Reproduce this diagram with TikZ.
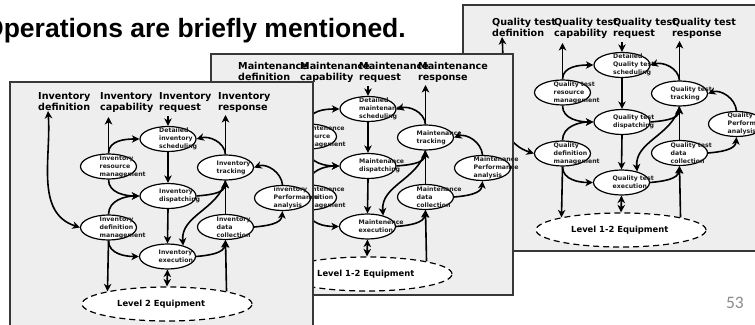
\documentclass[tikz,border=0pt]{standalone}
\usepackage{fontspec}
\setmainfont{DejaVu Sans}
\newfontfamily\titlefont{Liberation Sans}
\newfontfamily\pagefont{Carlito}
\usetikzlibrary{arrows.meta,shapes.geometric}

\definecolor{panelbg}{HTML}{EEEEEE}
\definecolor{panelframe}{HTML}{383838}
\definecolor{inktext}{HTML}{1E1E1E}
\definecolor{pagegray}{HTML}{8C8C8C}

\tikzset{
  panelbox/.style={fill=panelbg, draw=panelframe, line width=1.4pt},
  act/.style={ellipse, draw=black, line width=1.2pt, fill=white,
    minimum width=56pt, minimum height=25pt, inner sep=0pt},
  equipbox/.style={ellipse, draw=black, line width=1.2pt, fill=white,
    dash pattern=on 6pt off 4pt, minimum width=170pt, minimum height=34pt, inner sep=0pt},
  acttext/.style={font=\bfseries\fontsize{6.2}{8}\selectfont, text=inktext,
    inner sep=0pt, anchor=west},
  equiptext/.style={font=\bfseries\fontsize{8.4}{10}\selectfont, inner sep=0pt, anchor=west},
  toptext/.style={font=\bfseries\fontsize{9.6}{11}\selectfont, inner sep=0pt, anchor=base west},
  tip/.tip={Stealth[length=7.5pt,width=7.5pt,inset=2.2pt]},
  flow/.style={line width=1.6pt, -tip},
  flowboth/.style={line width=1.6pt, tip-tip},
}

% Activity model of one operations category, drawn in panel coordinates
% (origin at the panel's upper left corner, y pointing up).
\newcommand\activitymodel{%
  % activities
  \node[act] (sched) at (158,-57) {};
  \node[act] (res)   at (98.5,-84.5) {};
  \node[act] (disp)  at (158,-114) {};
  \node[act] (track) at (215.5,-85.5) {};
  \node[act] (defm)  at (98.5,-145.5) {};
  \node[act] (exec)  at (157.5,-174.5) {};
  \node[act] (dcoll) at (215.5,-145) {};
  \node[act] (perf)  at (272.5,-116) {};
  \node[equipbox] (equip) at (157,-222) {};
  % activity texts
  \node[acttext] (sched-t) at ([xshift=-9pt]sched.center) {\vtop{\hbox{Detailed}\hbox{\PmSchedMid}\hbox{scheduling}}};
  \node[acttext] (res-t)   at ([xshift=-9pt]res.center)   {\vtop{\hbox{\PmRes}\hbox{resource}\hbox{management}}};
  \node[acttext] (disp-t)  at ([xshift=-9pt]disp.center)  {\vtop{\hbox{\PmDisp}\hbox{dispatching}}};
  \node[acttext] (track-t) at ([xshift=-9pt]track.center) {\vtop{\hbox{\PmTrack}\hbox{tracking}}};
  \node[acttext] (defm-t)  at ([xshift=-9pt]defm.center)  {\vtop{\hbox{\PmDefm}\hbox{definition}\hbox{management}}};
  \node[acttext] (exec-t)  at ([xshift=-9pt]exec.center)  {\vtop{\hbox{\PmExec}\hbox{execution}}};
  \node[acttext] (dcoll-t) at ([xshift=-9pt]dcoll.center) {\vtop{\hbox{\PmDcoll}\hbox{data}\hbox{collection}}};
  \node[acttext] (perf-t)  at ([xshift=-9pt]perf.center)  {\vtop{\hbox{\PmPerf}\hbox{Performance}\hbox{analysis}}};
  \node[equiptext] (equip-t) at ([xshift=-50pt]equip.center) {\PmEquip};
  % information exchanged with the other functions
  \node[toptext] (lbl-def) at (28,-18)  {\vtop{\hbox{\PmTop}\hbox{definition}}};
  \node[toptext] (lbl-cap) at (90,-18)  {\vtop{\hbox{\PmTop}\hbox{capability}}};
  \node[toptext] (lbl-req) at (149,-18) {\vtop{\hbox{\PmTop}\hbox{request}}};
  \node[toptext] (lbl-rsp) at (208,-18) {\vtop{\hbox{\PmTop}\hbox{response}}};
  \coordinate (defend)  at (38,-29);
  \coordinate (capend)  at (98.5,-35);
  \coordinate (reqfrom) at (158,-34);
  \coordinate (rspend)  at (215.5,-33);
  % flows
  \draw[flowboth] (defend) to[out=-86,in=162] (defm.west);
  \draw[flow] (res.north) -- (capend);
  \draw[flow] (reqfrom) -- (sched.north);
  \draw[flow] (track.north) -- (rspend);
  \draw[flow] (res.north) to[out=90,in=180] (sched.west);
  \draw[flow] (res.south) to[out=-90,in=180] (disp.west);
  \draw[flow] (sched.south) -- (disp.north);
  \draw[flow] (disp.south) -- (exec.north);
  \draw[flow] (track.north) to[out=95,in=15] (sched.east);
  \draw[flow] (perf.north) to[out=95,in=20] (track.east);
  \draw[flow] (disp.east) to[out=5,in=-95] (track.south);
  \draw[flow] (dcoll.north) -- (track.south);
  \draw[flow] (track.south) to[out=-105,in=95] (exec.35);
  \draw[flow] (exec.east) to[out=5,in=-95] (dcoll.south);
  \draw[flow] (dcoll.east) to[out=5,in=-95] (perf.south);
  \draw[flow] (equip.12) -- (dcoll.south);
  \draw[flowboth] (exec.south) -- (equip.north);
  \draw[flow] (defm.south) -- (equip.168);
  \draw[flow] (defm.north) to[out=90,in=180] (disp.west);
  \draw[flow] (defm.south) to[out=-90,in=180] (exec.west);
}

\begin{document}
\begin{tikzpicture}[x=1pt,y=1pt]
  \useasboundingbox (0,0) rectangle (755,324);
  \clip (0,0) rectangle (755,324);
  \fill[white] (0,0) rectangle (755,324);

  % slide title
  \node[font=\titlefont\bfseries\fontsize{26.5}{30}\selectfont, anchor=base east, inner sep=0pt]
    (title) at (406,286) {Operations are briefly mentioned.};
  % page number
  \node[font=\pagefont\fontsize{17.5}{20}\selectfont, text=pagegray, anchor=base east, inner sep=0pt]
    (pageno) at (744,16) {53};

  % Quality test panel (back)
  \path[panelbox] (463,319) rectangle (772,73);
  \begin{scope}[shift={(464,316)}, name prefix=Q-]
    \def\PmTop{Quality test}\def\PmSchedMid{Quality test}\def\PmRes{Quality test}
    \def\PmDisp{Quality test}\def\PmTrack{Quality test}\def\PmDefm{Quality}
    \def\PmExec{Quality test}\def\PmDcoll{Quality test}\def\PmPerf{Quality}
    \def\PmEquip{Level 1-2 Equipment}
    \activitymodel
  \end{scope}

  % Maintenance panel (middle)
  \path[panelbox] (211,270) rectangle (513,29);
  \begin{scope}[shift={(210,272)}, name prefix=M-]
    \def\PmTop{Maintenance}\def\PmSchedMid{maintenance}\def\PmRes{Maintenence}
    \def\PmDisp{Maintenance}\def\PmTrack{Maintenance}\def\PmDefm{Maintenence}
    \def\PmExec{Maintenence}\def\PmDcoll{Maintenance}\def\PmPerf{Maintenance}
    \def\PmEquip{Level 1-2 Equipment}
    \activitymodel
  \end{scope}

  % Inventory panel (front)
  \path[panelbox] (10,242) rectangle (313,-3);
  \begin{scope}[shift={(10,242)}, name prefix=I-]
    \def\PmTop{Inventory}\def\PmSchedMid{inventory}\def\PmRes{Inventory}
    \def\PmDisp{Inventory}\def\PmTrack{Inventory}\def\PmDefm{Inventory}
    \def\PmExec{Inventory}\def\PmDcoll{Inventory}\def\PmPerf{inventory}
    \def\PmEquip{Level 2 Equipment}
    \activitymodel
  \end{scope}
\end{tikzpicture}
\end{document}
